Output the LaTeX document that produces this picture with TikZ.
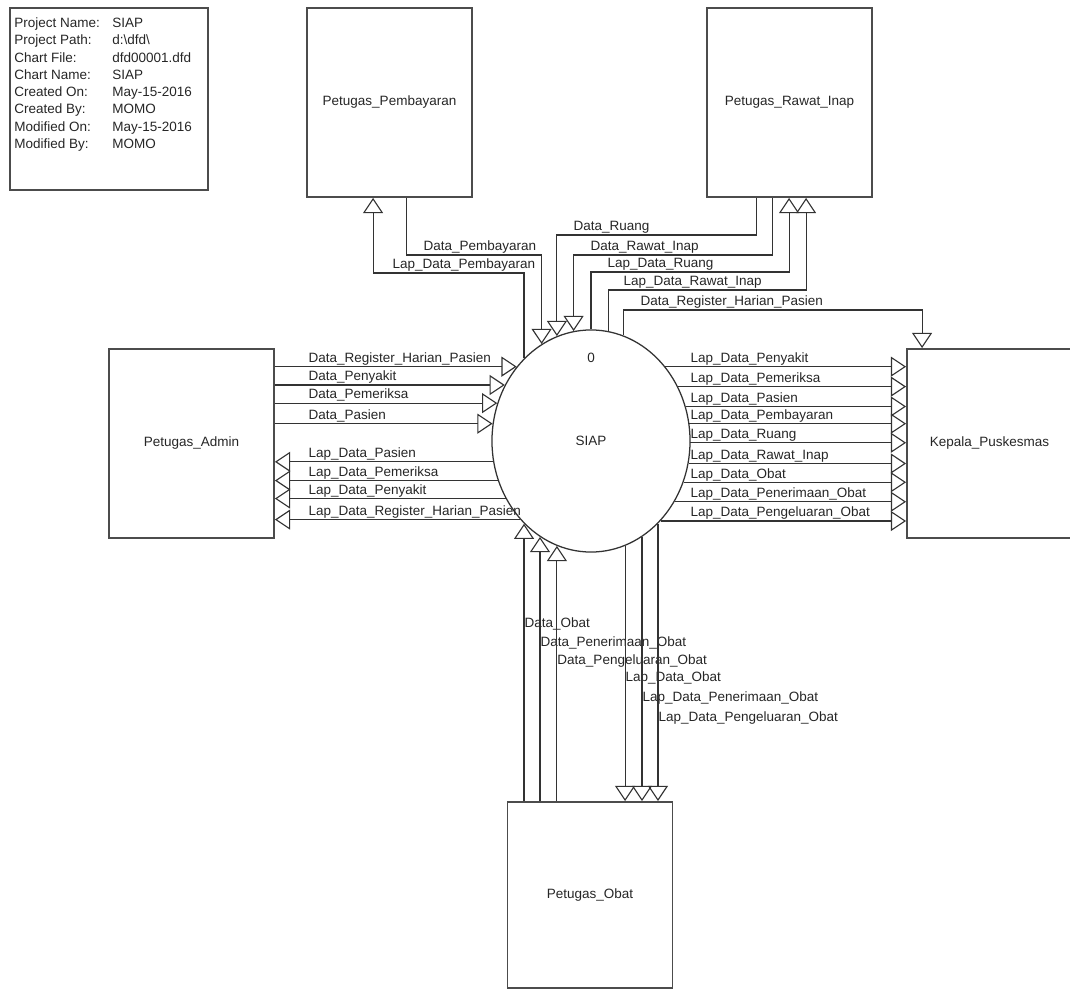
\documentclass[tikz,border=0pt]{standalone}
\usepackage{fontspec}
\setmainfont{Liberation Sans}
\usetikzlibrary{positioning, shapes.geometric, arrows.meta, calc}

\begin{document}
\begin{tikzpicture}[
    x=0.025cm, y=-0.025cm,
    font=\fontsize{9.6}{11.5}\selectfont,
    entity/.style={draw=black!70, line width=1.3pt, minimum width=4.125cm, minimum height=4.725cm, inner sep=0pt, text=black!85},
    process/.style={ellipse, draw=black!80, line width=0.9pt, minimum width=4.95cm, minimum height=5.55cm, inner sep=0pt, text=black!85},
    flow/.style={-{Triangle[open, length=0.38cm, width=0.5cm]}, draw=black!80, line width=0.8pt},
    lbl/.style={anchor=base west, inner sep=0pt, yshift=3pt, text=black!85},
    infobox/.style={draw=black!70, line width=1.3pt, minimum width=4.95cm, minimum height=4.55cm},
    infotxt/.style={inner sep=0pt, font=\fontsize{9.6}{12.3}\selectfont, text=black!85}
]
    \useasboundingbox (0,0) rectangle (1070,990);

    % Chart info
    \node[infobox] (info) at (109,99) {};
    \node[infotxt, below right=0.2cm and 0.125cm of info.north west] (infotab) {%
        \begin{tabular}{@{}p{2.45cm}@{}l@{}}
        Project Name: & SIAP\\
        Project Path: & d:\textbackslash dfd\textbackslash\\
        Chart File: & dfd00001.dfd\\
        Chart Name: & SIAP\\
        Created On: & May-15-2016\\
        Created By: & MOMO\\
        Modified On: & May-15-2016\\
        Modified By: & MOMO
        \end{tabular}};

    % Draw Entities
    \node[entity] (pay) at (389.5,102.5) {Petugas\_Pembayaran};
    \node[entity] (rawat) at (789.5,102.5) {Petugas\_Rawat\_Inap};
    \node[entity] (admin) at (191.5,443.5) {Petugas\_Admin};
    \node[entity] (kep) at (989.5,443.5) {Kepala\_Puskesmas};
    \node[entity, minimum height=4.65cm] (obat) at (590,895) {Petugas\_Obat};

    % Draw Process
    \node[process] (siap) at (591,441) {SIAP};
    \node[inner sep=0pt, text=black!85, below=0.575cm of siap.north] (siapid) {0};

    % Petugas_Pembayaran
    \draw[flow] ($(pay.south west)+(100,0)$) |- (423,255) node[lbl] {Data\_Pembayaran} -| (siap.117);
    \draw[flow] (siap.129) |- (392,273) node[lbl] {Lap\_Data\_Pembayaran} -| ($(pay.south west)+(67,0)$);

    % Petugas_Rawat_Inap
    \draw[flow] ($(rawat.south west)+(50,0)$) |- (573,235) node[lbl] {Data\_Ruang} -| (siap.108);
    \draw[flow] ($(rawat.south west)+(66,0)$) |- (590,255) node[lbl] {Data\_Rawat\_Inap} -| (siap.99);
    \draw[flow] (siap.90) |- (607,272) node[lbl] {Lap\_Data\_Ruang} -| ($(rawat.south west)+(83,0)$);
    \draw[flow] (siap.81) |- (623,290) node[lbl] {Lap\_Data\_Rawat\_Inap} -| ($(rawat.south west)+(100,0)$);

    % Petugas_Admin
    \draw[flow] (admin.east |- siap.135) -- (308,0 |- siap.135) node[lbl] {Data\_Register\_Harian\_Pasien} -- (siap.135);
    \draw[flow] (admin.east |- siap.147) -- (308,0 |- siap.147) node[lbl] {Data\_Penyakit} -- (siap.147);
    \draw[flow] (admin.east |- siap.158) -- (308,0 |- siap.158) node[lbl] {Data\_Pemeriksa} -- (siap.158);
    \draw[flow] (admin.east |- siap.170) -- (308,0 |- siap.170) node[lbl] {Data\_Pasien} -- (siap.170);
    \draw[flow] (siap.192) -- (308,0 |- siap.192) node[lbl] {Lap\_Data\_Pasien} -- (admin.east |- siap.192);
    \draw[flow] (siap.203) -- (308,0 |- siap.203) node[lbl] {Lap\_Data\_Pemeriksa} -- (admin.east |- siap.203);
    \draw[flow] (siap.214) -- (308,0 |- siap.214) node[lbl] {Lap\_Data\_Penyakit} -- (admin.east |- siap.214);
    \draw[flow] (siap.228) -- (308,0 |- siap.228) node[lbl] {Lap\_Data\_Register\_Harian\_Pasien} -- (admin.east |- siap.228);

    % Kepala_Puskesmas
    \draw[flow] (siap.73) |- (640,310) node[lbl] {Data\_Register\_Harian\_Pasien} -| ($(kep.north west)+(16,0)$);
    \draw[flow] (siap.45) -- (690,0 |- siap.45) node[lbl] {Lap\_Data\_Penyakit} -- (kep.west |- siap.45);
    \draw[flow] (siap.32) -- (690,0 |- siap.32) node[lbl] {Lap\_Data\_Pemeriksa} -- (kep.west |- siap.32);
    \draw[flow] (siap.20) -- (690,0 |- siap.20) node[lbl] {Lap\_Data\_Pasien} -- (kep.west |- siap.20);
    \draw[flow] (siap.10) -- (690,0 |- siap.10) node[lbl] {Lap\_Data\_Pembayaran} -- (kep.west |- siap.10);
    \draw[flow] (siap.359) -- (690,0 |- siap.359) node[lbl] {Lap\_Data\_Ruang} -- (kep.west |- siap.359);
    \draw[flow] (siap.347) -- (690,0 |- siap.347) node[lbl] {Lap\_Data\_Rawat\_Inap} -- (kep.west |- siap.347);
    \draw[flow] (siap.336) -- (690,0 |- siap.336) node[lbl] {Lap\_Data\_Obat} -- (kep.west |- siap.336);
    \draw[flow] (siap.324) -- (690,0 |- siap.324) node[lbl] {Lap\_Data\_Penerimaan\_Obat} -- (kep.west |- siap.324);
    \draw[flow] (siap.311) -- (690,0 |- siap.311) node[lbl] {Lap\_Data\_Pengeluaran\_Obat} -- (kep.west |- siap.311);

    % Petugas_Obat
    \draw[flow] (siap.231 |- obat.north) -- (siap.231 |- 0,632) node[lbl] {Data\_Obat} -- (siap.231);
    \draw[flow] (siap.242 |- obat.north) -- (siap.242 |- 0,651) node[lbl] {Data\_Penerimaan\_Obat} -- (siap.242);
    \draw[flow] (siap.252 |- obat.north) -- (siap.252 |- 0,669) node[lbl] {Data\_Pengeluaran\_Obat} -- (siap.252);
    \draw[flow] (siap.288) -- (siap.288 |- 0,686) node[lbl] {Lap\_Data\_Obat} -- (siap.288 |- obat.north);
    \draw[flow] (siap.298) -- (siap.298 |- 0,706) node[lbl] {Lap\_Data\_Penerimaan\_Obat} -- (siap.298 |- obat.north);
    \draw[flow] (siap.309) -- (siap.309 |- 0,726) node[lbl] {Lap\_Data\_Pengeluaran\_Obat} -- (siap.309 |- obat.north);

\end{tikzpicture}
\end{document}
